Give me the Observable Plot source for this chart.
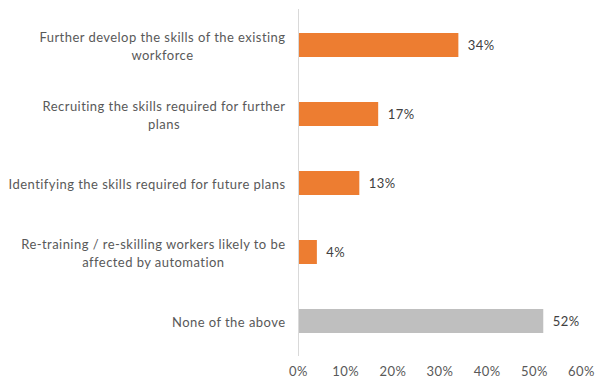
<!DOCTYPE html>
<html>
<head>
<meta charset="utf-8">
<script src="https://cdn.jsdelivr.net/npm/d3@7"></script>
<script src="https://cdn.jsdelivr.net/npm/@observablehq/plot@0.6"></script>
<style>
  body { margin: 0; background: #ffffff; }
</style>
</head>
<body>
<div id="chart"></div>
<script>
// Survey answers, top to bottom
const categories = [
  "Further develop the skills of the existing\nworkforce",
  "Recruiting the skills required for further\nplans",
  "Identifying the skills required for future plans",
  "Re-training / re-skilling workers likely to be\naffected by automation",
  "None of the above"
];
const values = [34, 17, 13, 4, 52];
const barColors = ["#ED7D31", "#ED7D31", "#ED7D31", "#ED7D31", "#BFBFBF"];
const xTicks = [0, 10, 20, 30, 40, 50, 60];

const data = categories.map((c, i) => ({ category: c, value: values[i], color: barColors[i] }));

const chart = Plot.plot({
  width: 595,
  height: 383,
  marginTop: 9,
  marginBottom: 27,
  marginLeft: 298,
  marginRight: 14,
  style: {
    fontFamily: "Lato, 'Open Sans', sans-serif",
    fontSize: "13px",
    letterSpacing: "0.45px",
    color: "#595959",
    background: "#ffffff"
  },
  x: { domain: [0, 60], label: null },
  y: { domain: categories, paddingInner: 0.654, paddingOuter: 0.327, label: null },
  color: { type: "identity" },
  marks: [
    Plot.barX(data, { y: "category", x: "value", fill: "color" }),
    Plot.ruleX([0], { stroke: "#D9D9D9", strokeWidth: 1 }),
    Plot.text(data, {
      y: "category", x: "value", text: d => d.value + "%",
      textAnchor: "start", dx: 9, fill: "#404040", fontSize: 13
    }),
    Plot.axisX({ ticks: xTicks, tickSize: 0, tickPadding: 10, tickFormat: d => d + "%", label: null, fill: "#595959" }),
    Plot.axisY({ tickSize: 0, tickPadding: 13, label: null, lineHeight: 1.36, fill: "#595959" })
  ]
});

document.getElementById("chart").appendChild(chart);

// Center the lines of wrapped category labels within their right-aligned block
chart.querySelectorAll('g[aria-label="y-axis tick label"] text').forEach(t => {
  const spans = t.querySelectorAll("tspan");
  if (spans.length < 2) return;
  const widths = Array.from(spans, s => s.getComputedTextLength());
  const maxW = Math.max(...widths);
  t.setAttribute("text-anchor", "middle");
  spans.forEach(s => s.setAttribute("x", -maxW / 2));
});
</script>
</body>
</html>
